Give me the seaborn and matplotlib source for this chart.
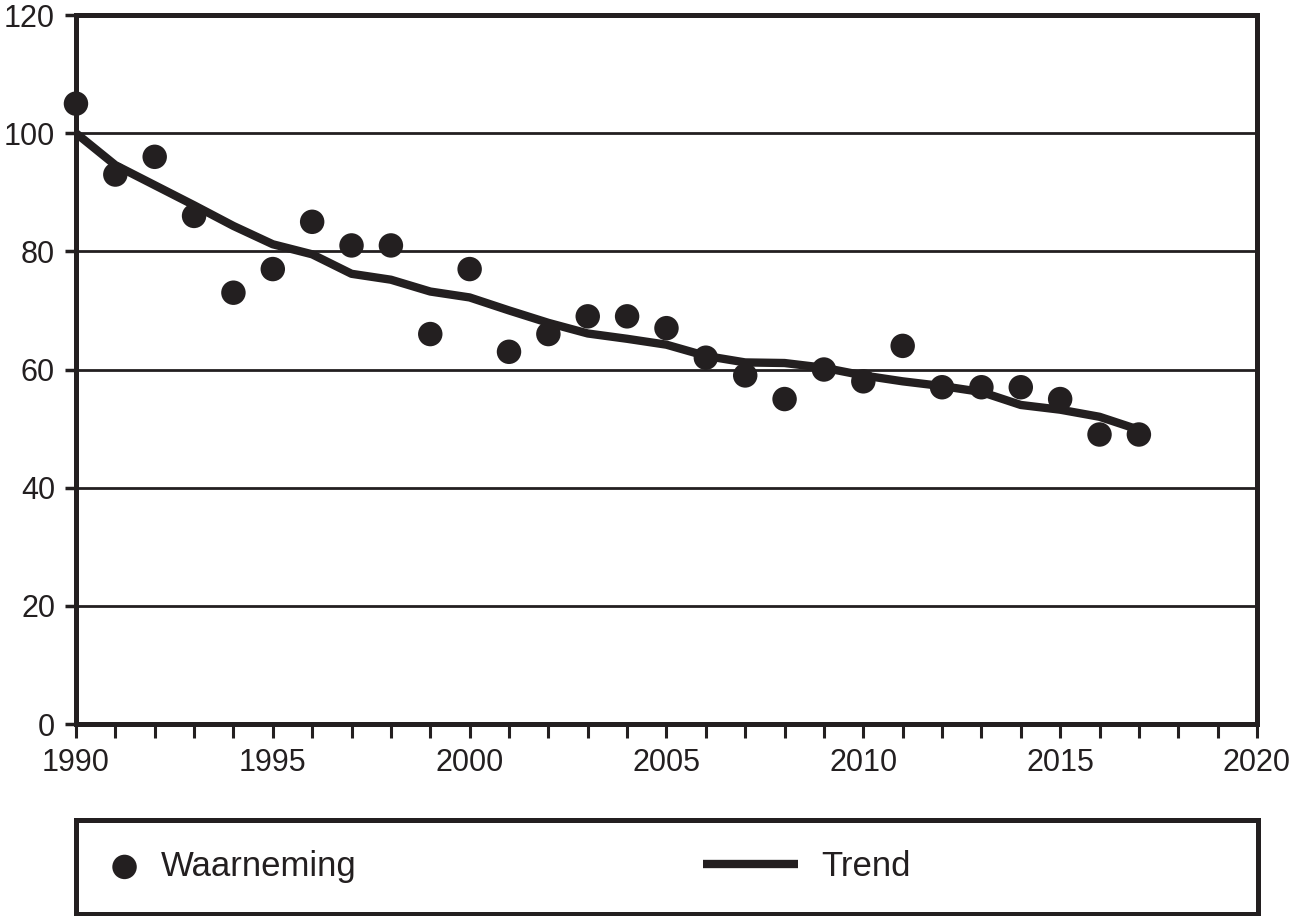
import matplotlib
matplotlib.use("Agg")
import matplotlib.pyplot as plt
import seaborn as sns
import pandas as pd

# data
years = list(range(1990, 2018))
waarneming = [105, 93, 96, 86, 73, 77, 85, 81, 81, 66,
              77, 63, 66, 69, 69, 67, 62, 59, 55, 60,
              58, 64, 57, 57, 57, 55, 49, 49]
trend = [100, 94.6, 91.2, 87.8, 84.3, 81.2, 79.5, 76.2, 75.2, 73.2,
         72.2, 70.0, 67.9, 66.1, 65.2, 64.2, 62.3, 61.2, 61.1, 60.3,
         59.0, 58.0, 57.2, 56.2, 54.0, 53.2, 52.0, 49.8]
x_ticks = list(range(1990, 2021))
x_labels = [str(y) if y % 5 == 0 else "" for y in x_ticks]
y_ticks = [0, 20, 40, 60, 80, 100, 120]

df = pd.DataFrame({"jaar": years, "waarneming": waarneming, "trend": trend})

INK = "#231f20"

sns.set_style("white")
plt.rcParams["font.family"] = ["Liberation Sans", "DejaVu Sans"]

fig = plt.figure(figsize=(12.94, 9.16), dpi=100)
ax = fig.add_axes([0.0587, 0.2096, 0.9127, 0.774])

# trend line and observations
sns.lineplot(data=df, x="jaar", y="trend", color=INK, linewidth=6,
             solid_capstyle="butt", label="Trend", ax=ax, zorder=2)
sns.scatterplot(data=df, x="jaar", y="waarneming", color=INK, s=310,
                linewidth=0, edgecolor="none", label="Waarneming",
                ax=ax, zorder=3, clip_on=False)

handles, labels = ax.get_legend_handles_labels()
ax.get_legend().remove()

ax.set_xlim(1990, 2020)
ax.set_ylim(0, 120)
ax.set_xticks(x_ticks)
ax.set_xticklabels(x_labels)
ax.set_yticks(y_ticks)
ax.set_xlabel("")
ax.set_ylabel("")

for v in y_ticks[1:-1]:
    ax.axhline(v, color=INK, linewidth=2, zorder=1)

for sp in ax.spines.values():
    sp.set_visible(True)
    sp.set_color(INK)
    sp.set_linewidth(3.6)

ax.tick_params(axis="x", bottom=True, direction="out", length=10, width=2.2,
               color=INK, labelsize=22, labelcolor=INK, pad=7)
ax.tick_params(axis="y", left=True, direction="out", length=8, width=2.5,
               color=INK, labelsize=22, labelcolor=INK, pad=7)

# legend box underneath
ax_leg = fig.add_axes([0.0591, 0.0027, 0.9127, 0.1026])
ax_leg.set_xticks([])
ax_leg.set_yticks([])
for sp in ax_leg.spines.values():
    sp.set_color(INK)
    sp.set_linewidth(3.6)

i_obs = labels.index("Waarneming")
i_tr = labels.index("Trend")

leg1 = ax_leg.legend([handles[i_obs]], [labels[i_obs]], loc="center left",
                     bbox_to_anchor=(0.026, 0.5), frameon=False, borderpad=0,
                     borderaxespad=0, handlelength=1.0, handletextpad=0.55,
                     fontsize=25, labelcolor=INK, scatterpoints=1)
ax_leg.add_artist(leg1)
ax_leg.legend([handles[i_tr]], [labels[i_tr]], loc="center left",
              bbox_to_anchor=(0.5305, 0.5), frameon=False, borderpad=0,
              borderaxespad=0, handlelength=2.75, handletextpad=0.65,
              fontsize=25, labelcolor=INK)

fig.savefig("out.png", dpi=100)
